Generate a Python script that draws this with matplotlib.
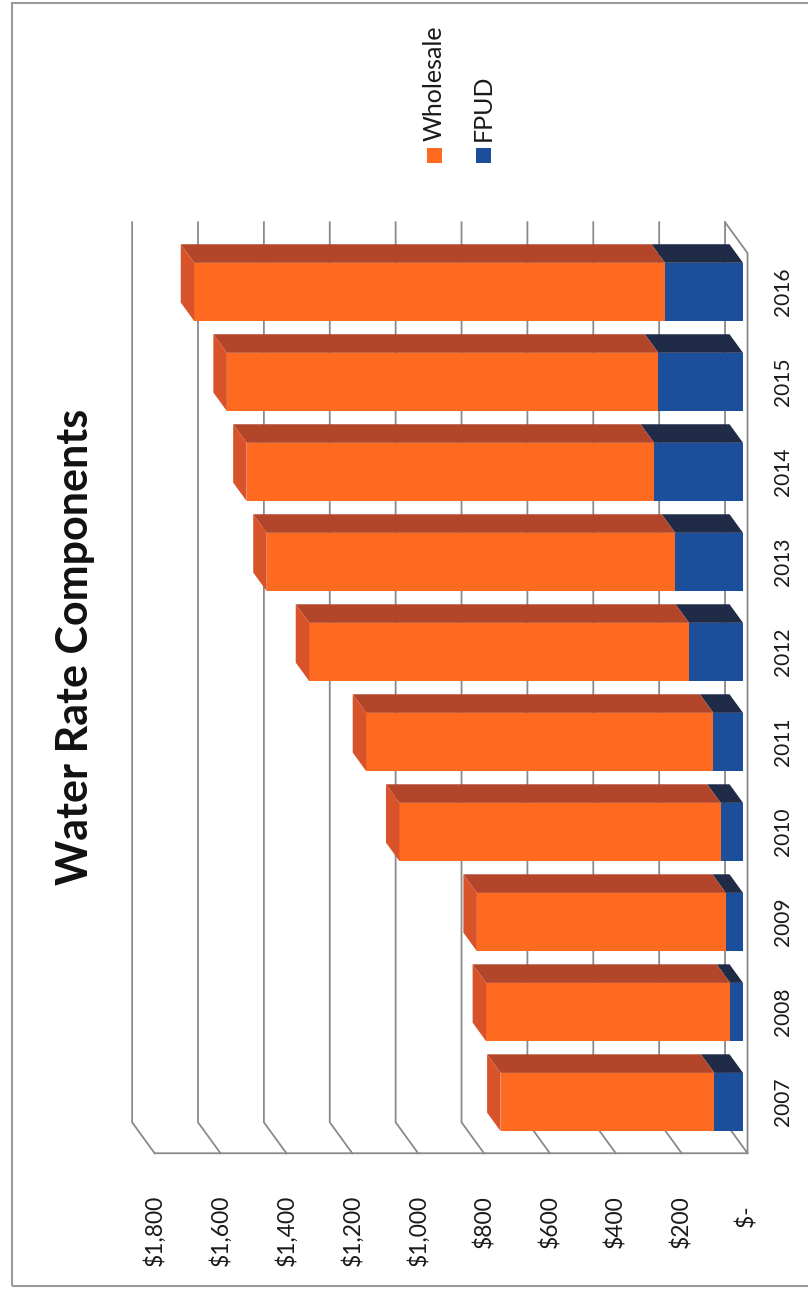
import matplotlib.pyplot as plt
from matplotlib.patches import Polygon, Rectangle

years = ['2007', '2008', '2009', '2010', '2011', '2012', '2013', '2014', '2015', '2016']
wholesale = [649, 741, 756, 975, 1054, 1153, 1240, 1237, 1310, 1429]
fpud = [87, 39, 52, 68, 90, 164, 206, 270, 257, 237]
series_names = ['Wholesale', 'FPUD']
value_ticks = [0, 200, 400, 600, 800, 1000, 1200, 1400, 1600, 1800]
tick_labels = ['$-  ', '$200', '$400', '$600', '$800', '$1,000', '$1,200', '$1,400', '$1,600', '$1,800']

# front / top / end colours of the fake 3d boxes
orange, orange_top, orange_end = '#ff6a21', '#b3452b', '#d9532a'
blue, blue_top = '#1b4f9b', '#1f2b47'
grid_col = '#8a8a8a'

plt.rcParams['font.family'] = ['Lato', 'DejaVu Sans']

fig = plt.figure(figsize=(8.08, 12.91), dpi=100)
ax = fig.add_axes([0.1858, 0.1115, 0.7338, 0.6972])
ax.set_xlim(1800, 0)
ax.set_ylim(-0.5, 9.5)
ax.axis('off')

# oblique depth: d=0 back wall, d=1 front edge, bar faces at d=0.8
DX, DY = 68.3, 0.344
def proj(v, c, d):
    return (v - (d - 0.8) * DX, c - (d - 0.8) * DY)

lo, hi = -0.5, len(years) - 0.5

# back wall gridlines folding onto the side wall
for v in value_ticks:
    pts = [proj(v, hi, 0), proj(v, lo, 0), proj(v, lo, 1)]
    ax.plot([p[0] for p in pts], [p[1] for p in pts], color=grid_col, lw=1.3,
            zorder=1, clip_on=False)
# front edge and floor
pts = [proj(value_ticks[-1], lo, 1), proj(0, lo, 1), proj(0, hi, 1), proj(0, hi, 0)]
ax.plot([p[0] for p in pts], [p[1] for p in pts], color=grid_col, lw=1.3,
        zorder=1, clip_on=False)

hh = 0.324
for i in range(len(years)):
    segs = [(0, fpud[i], blue, blue_top),
            (fpud[i], fpud[i] + wholesale[i], orange, orange_top)]
    for v0, v1, fc, tc in segs:
        ax.barh(i, v1 - v0, left=v0, height=2 * hh, color=fc, zorder=3, clip_on=False)
        top = [proj(v0, i + hh, 0.8), proj(v1, i + hh, 0.8),
               proj(v1, i + hh, 0.2), proj(v0, i + hh, 0.2)]
        ax.add_patch(Polygon(top, closed=True, facecolor=tc, edgecolor='none',
                             zorder=3, clip_on=False))
    t = fpud[i] + wholesale[i]
    cap = [proj(t, i - hh, 0.8), proj(t, i + hh, 0.8),
           proj(t, i + hh, 0.2), proj(t, i - hh, 0.2)]
    ax.add_patch(Polygon(cap, closed=True, facecolor=orange_end, edgecolor='none',
                         zorder=3, clip_on=False))

# value labels under the front edge
for v, lab in zip(value_ticks, tick_labels):
    ax.text(proj(v, lo, 1)[0], -1.03, lab, rotation=90, ha='center', va='top',
            fontsize=16.5, color='#1a1a1a')

# year labels
for i, y in enumerate(years):
    ax.text(-121, i, y, rotation=90, ha='center', va='center', fontsize=15,
            color='#1a1a1a')

# title
fig.text(75 / 808, 1 - 647 / 1291, 'Water Rate Components', rotation=90,
         ha='center', va='center', fontsize=31, fontweight='bold', color='#111111')

# legend
for xk, name, col in zip([434, 483], series_names, [orange, blue]):
    fig.text(xk / 808, 1 - 141 / 1291, name, rotation=90, ha='center', va='bottom',
             fontsize=18, color='#1a1a1a')
    fig.patches.append(Rectangle(((xk - 7.5) / 808, 1 - 163 / 1291), 15 / 808, 15 / 1291,
                                 transform=fig.transFigure, facecolor=col, edgecolor='none'))

# chart frame (right side runs off the scan)
fig.patches.append(Rectangle((12 / 808, 1 - 1286 / 1291), 820 / 808, 1283 / 1291,
                             transform=fig.transFigure, fill=False, edgecolor='#9a9a9a', lw=1.5))

fig.savefig('out.png', dpi=100)
